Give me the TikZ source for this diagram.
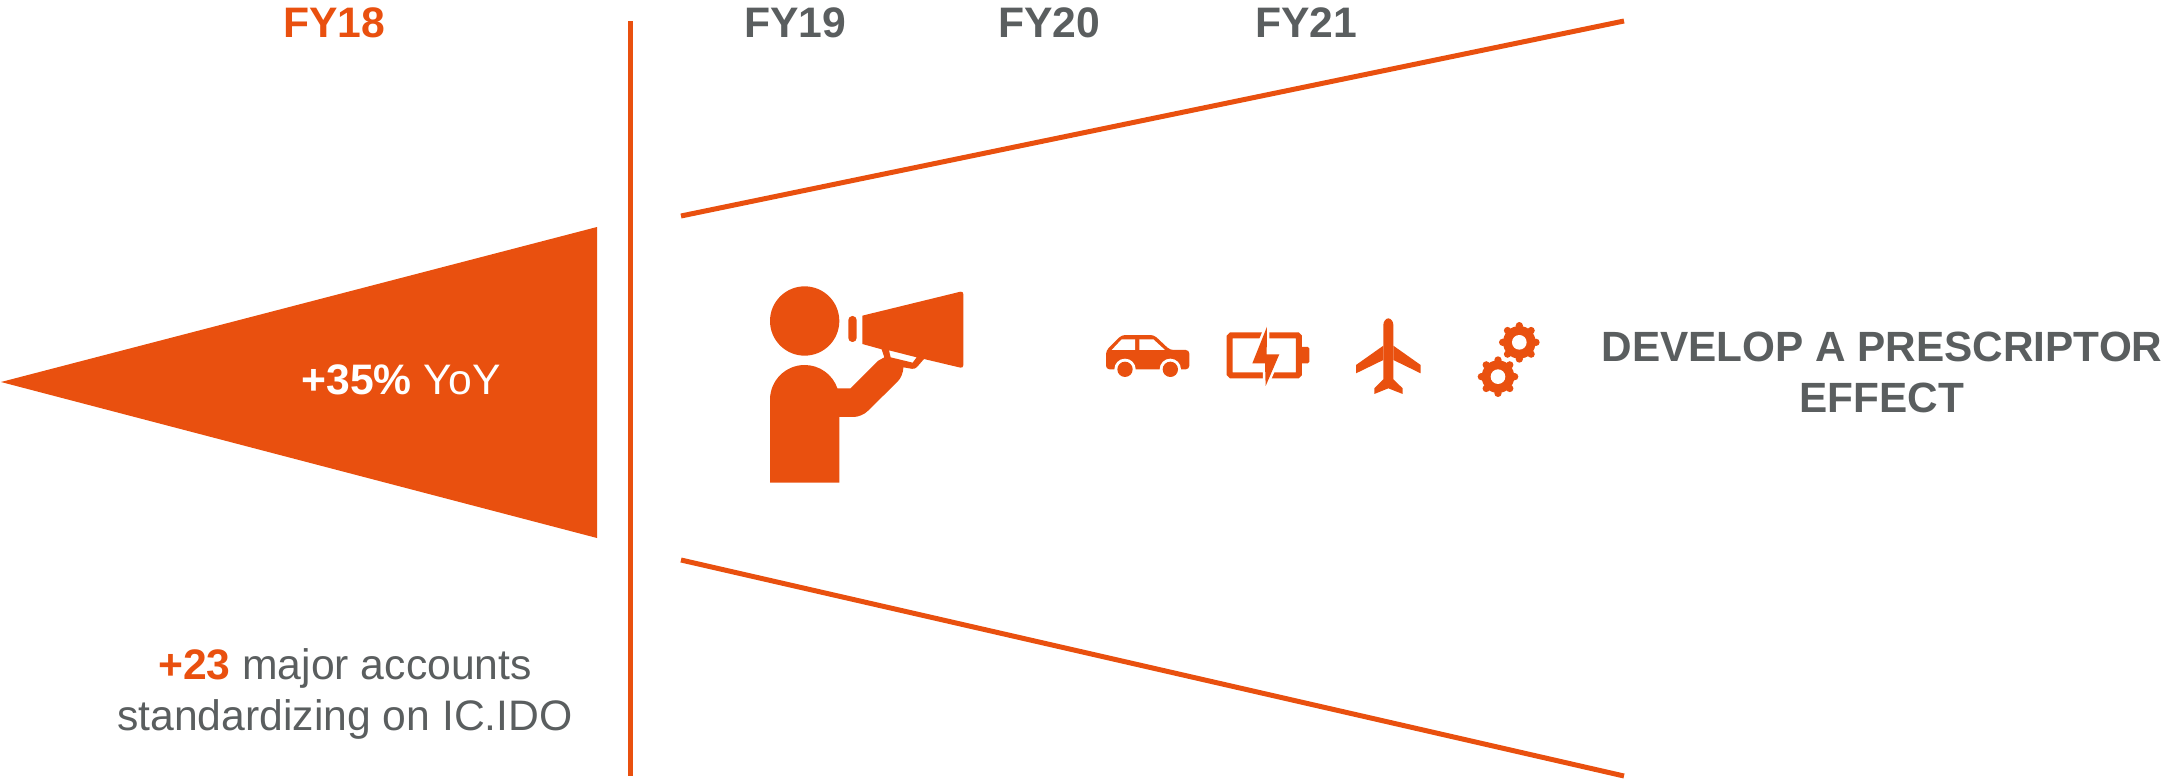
\documentclass[tikz,border=0pt]{standalone}
\usepackage{fontspec}
\setmainfont{Liberation Sans}
\definecolor{org}{HTML}{E9500F}
\definecolor{gry}{HTML}{5A5E5F}
\tikzset{
 ln/.style={draw=org,line width=5pt},
 hd/.style={inner sep=0pt,anchor=base,text=gry,font=\fontsize{42.67}{51}\selectfont\bfseries},
 tx/.style={inner sep=0pt,anchor=base,text=gry,align=center,font=\fontsize{42.67}{51}\selectfont},
}
\begin{document}
\begin{tikzpicture}[x=1pt,y=-1pt]
\useasboundingbox (0,0) rectangle (2161,779);
% triangle and lines
\fill[org] (1,382) -- (597,227) -- (597,538) -- cycle;
\coordinate (va) at (630,21); \coordinate (vb) at (630,776);
\draw[ln] (va) -- (vb);
\coordinate (ua) at (681,216); \coordinate (ub) at (1624,21);
\draw[ln] (ua) -- (ub);
\coordinate (la) at (681,560); \coordinate (lb) at (1624,776);
\draw[ln] (la) -- (lb);
% headings
\node[hd,text=org] (fy18) at (334,37) {FY18};
\node[hd] (fy19) at (795,37) {FY19};
\node[hd] (fy20) at (1049,37) {FY20};
\node[hd] (fy21) at (1306,37) {FY21};
\node[inner sep=0pt,anchor=base,text=white,font=\fontsize{42.67}{51}\selectfont] (yoy) at (401,394) {\textbf{+35\%} YoY};
\node[tx] (acc) at (345,730) {\textcolor{org}{\textbf{+23}} major accounts\\standardizing on IC.IDO};
\node[hd,align=center,font=\fontsize{42.3}{51}\selectfont\bfseries] (dev) at (1882,412) {DEVELOP A PRESCRIPTOR\\EFFECT};
% person
\begin{scope}[shift={(740,270)},x=.3333pt,y=-.3333pt]
\fill[org] (194,153) circle[radius=104];
\fill[org,rounded corners=4pt] (325,138) rectangle (350,216);
\fill[org,even odd rule]
 (90,638) -- (90,389) arc[start angle=180,end angle=341,radius=104]
 -- (332,355) -- (415,272) -- (433,262) -- (425,238) -- (367,222) -- (367,137)
 [rounded corners=3pt] -- (670,63) -- (670,295) [sharp corners] -- (552,267)
 [rounded corners=3pt] -- (525,298) [sharp corners] -- (490,292)
 [rounded corners=8pt] -- (490,318) -- (365,441) [sharp corners] -- (298,441) -- (298,638) -- cycle
 (447,241) -- (530,262) -- (518,278) -- (452,262) -- cycle;
\end{scope}
% car
\begin{scope}[shift={(1090,300)},x=.3333pt,y=-.3333pt]
\fill[org,rounded corners=3.5pt] (48,208) -- (48,152) -- (95,105) -- (192,105) -- (240,150) -- (298,150) -- (298,208) -- cycle;
\fill[white] (65,150) -- (95,118) -- (135,118) -- (135,150) -- cycle;
\fill[white] (148,150) -- (148,118) -- (190,118) -- (225,150) -- cycle;
\fill[white] (105,208) circle[radius=32];
\fill[white] (241,208) circle[radius=32];
\fill[white] (60,209) rectangle (290,235);
\fill[org] (105,208) circle[radius=23];
\fill[org] (241,208) circle[radius=23];
% battery
\draw[draw=org,line width=6pt,rounded corners=1.5pt] (419,106) rectangle (627,226);
\fill[org,rounded corners=1.5pt] (630,141) -- (658,141) -- (658,190) -- (630,190) -- cycle;
\filldraw[fill=org,draw=white,line width=5pt,line join=miter] (531,80) -- (487,190) -- (525,190) -- (527,258) -- (568,163) -- (530,163) -- cycle;
\fill[org] (531,80) -- (487,190) -- (525,190) -- (527,258) -- (568,163) -- (530,163) -- cycle;
\end{scope}
% plane
\begin{scope}[shift={(1340,300)},x=.3333pt,y=-.3333pt]
\fill[org] (130,240) -- (130,75) .. controls (130,65) and (137,55) .. (145,55) .. controls (153,55) and (160,65) .. (160,75) -- (160,240) -- cycle;
\fill[org] (130,137) -- (48,195) -- (48,220) -- (130,180) -- cycle;
\fill[org] (160,137) -- (242,195) -- (242,220) -- (160,180) -- cycle;
\fill[org] (130,238) -- (103,265) -- (103,282) -- (145,265) -- (188,282) -- (188,265) -- (160,238) -- cycle;
% gears
\foreach \cx/\cy in {538/127,474/230}{
 \fill[org] (\cx,\cy) circle[radius=49];
 \foreach \a in {0,45,...,315}{
  \fill[org] ({\cx+50*cos(\a)},{\cy+50*sin(\a)}) circle[radius=11];
 }
 \fill[white] (\cx,\cy) circle[radius=22];
}
\end{scope}
\end{tikzpicture}
\end{document}
